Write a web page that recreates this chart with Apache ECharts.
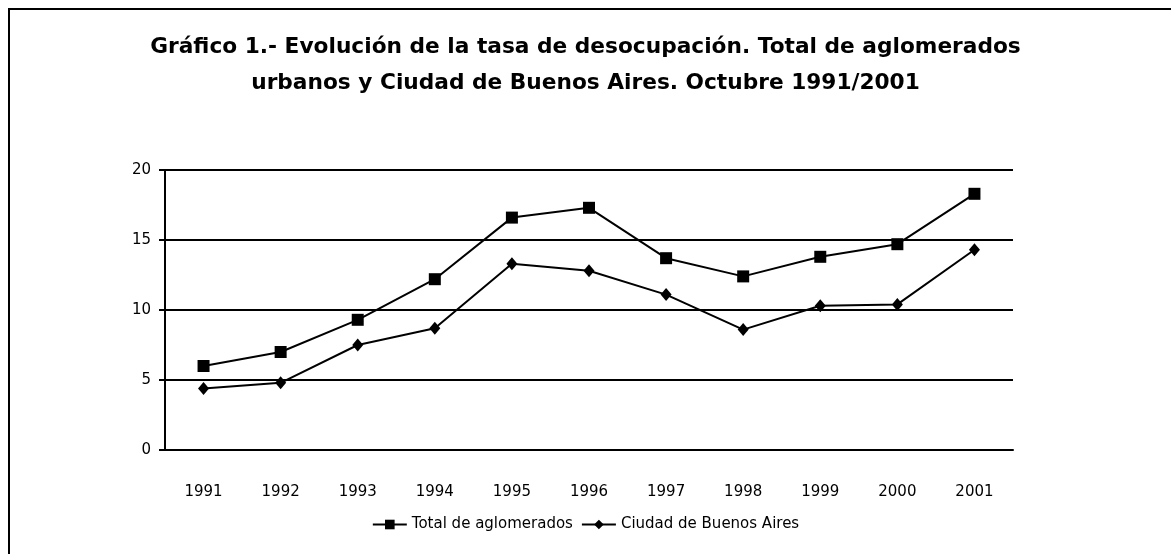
<!DOCTYPE html>
<html>
<head>
<meta charset="utf-8">
<title>Desocupación</title>
<script src="https://cdn.jsdelivr.net/npm/echarts@6/dist/echarts.min.js"></script>
</head>
<body style="margin:0">
<div id="container" style="width:1171px;height:554px"></div>
<script>
var years = ['1991','1992','1993','1994','1995','1996','1997','1998','1999','2000','2001'];
var totalAglomerados = [6.0, 7.0, 9.3, 12.2, 16.6, 17.3, 13.7, 12.4, 13.8, 14.7, 18.3];
var ciudadBsAs = [4.4, 4.8, 7.5, 8.7, 13.3, 12.8, 11.1, 8.6, 10.3, 10.4, 14.3];
var yTicks = [0, 5, 10, 15, 20];

var chart = echarts.init(document.getElementById('container'));
var font = 'DejaVu Sans';
var option = {
    backgroundColor: '#fff',
    animation: false,
    title: {
        text: 'Gráfico 1.- Evolución de la tasa de desocupación. Total de aglomerados\nurbanos y Ciudad de Buenos Aires. Octubre 1991/2001',
        left: 'center',
        top: 24,
        textStyle: {fontFamily: font, fontSize: 21.7, fontWeight: 'bold', color: '#000', lineHeight: 36}
    },
    graphic: [{
        type: 'rect',
        shape: {x: 9, y: 9, width: 1200, height: 600},
        style: {fill: 'none', stroke: '#000', lineWidth: 2}
    }],
    legend: {
        bottom: 17,
        left: 'center',
        itemWidth: 34,
        itemHeight: 12,
        itemGap: 8,
        textStyle: {fontFamily: font, fontSize: 15, color: '#000'},
        data: ['Total de aglomerados', 'Ciudad de Buenos Aires']
    },
    grid: {left: 165, right: 158, top: 170, bottom: 104},
    xAxis: {
        type: 'category',
        data: years,
        boundaryGap: true,
        axisLine: {lineStyle: {color: '#000', width: 2}},
        axisTick: {length: 8, lineStyle: {color: '#000', width: 2}},
        axisLabel: {fontFamily: font, fontSize: 15, color: '#000', margin: 35}
    },
    yAxis: {
        type: 'value',
        min: yTicks[0],
        max: yTicks[yTicks.length - 1],
        interval: 5,
        axisLine: {show: true, lineStyle: {color: '#000', width: 2}},
        axisTick: {show: true, length: 6, lineStyle: {color: '#000', width: 2}},
        axisLabel: {fontFamily: font, fontSize: 15, color: '#000', margin: 14},
        splitLine: {lineStyle: {color: '#000', width: 2}}
    },
    series: [{
        name: 'Total de aglomerados',
        type: 'line',
        data: totalAglomerados,
        symbol: 'rect',
        symbolSize: 12,
        itemStyle: {color: '#000'},
        lineStyle: {color: '#000', width: 2}
    }, {
        name: 'Ciudad de Buenos Aires',
        type: 'line',
        data: ciudadBsAs,
        symbol: 'diamond',
        symbolSize: [11, 13],
        itemStyle: {color: '#000'},
        lineStyle: {color: '#000', width: 2}
    }]
};
chart.setOption(option);
</script>
</body>
</html>
